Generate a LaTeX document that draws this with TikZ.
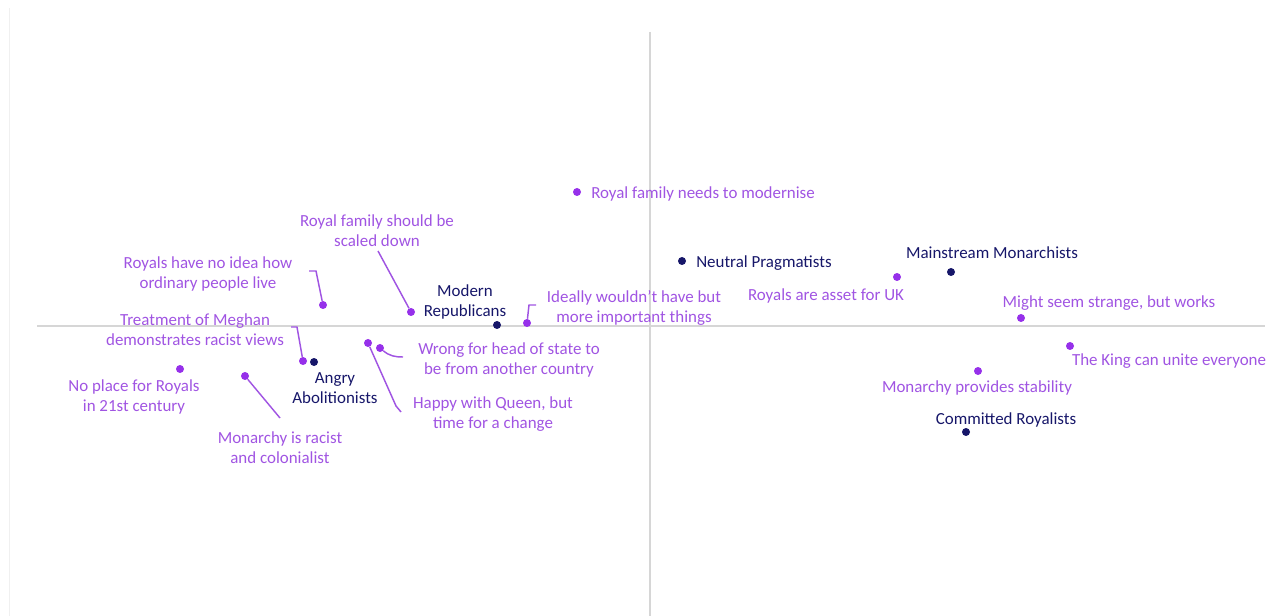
\documentclass[tikz,border=0pt]{standalone}
\usepackage{fontspec}
\setmainfont{Carlito}
\usetikzlibrary{positioning}
\definecolor{achse}{RGB}{214,214,214}
\definecolor{rand}{RGB}{240,240,240}
\definecolor{lila}{RGB}{160,84,226}
\definecolor{lilapunkt}{RGB}{150,48,234}
\definecolor{dunkelblau}{RGB}{22,22,105}

\tikzset{
  aussage/.style={text=lila, align=center, inner sep=0pt, yshift=-1.2pt, font=\fontsize{12.7}{15}\selectfont},
  gruppe/.style={text=dunkelblau, align=center, inner sep=0pt, yshift=-1.2pt, font=\fontsize{12.7}{15}\selectfont},
  lpunkt/.style={circle, fill=lilapunkt, inner sep=0pt, minimum size=6pt},
  gpunkt/.style={circle, fill=dunkelblau, inner sep=0pt, minimum size=6pt},
  zeiger/.style={lila, line width=1.1pt},
}

\begin{document}
\begin{tikzpicture}[x=0.75pt, y=-0.75pt]
\useasboundingbox (0,0) rectangle (1284,616);

% Rand links
\coordinate (ro) at (9,8); \coordinate (ru) at (9,616);
\draw[rand, line width=0.75pt] (ro) -- (ru);

% Achsen
\coordinate (xl) at (37,326); \coordinate (xr) at (1265,326);
\coordinate (yo) at (650,32); \coordinate (yu) at (650,616);
\draw[achse, line width=1.1pt] (xl) -- (xr);
\draw[achse, line width=1.1pt] (yo) -- (yu);

% Punkte der Aussagen
\foreach \n/\x/\y in {mod/577/192, skl/411/312, ahn/323/305, meg/303/361, pla/180/369,
    ras/245/376, ide/527/323, kop/380/348, que/368/343, ass/897/277, sel/1021/318,
    kin/1070/346, sta/978/371}
  \node[lpunkt] (\n) at (\x,\y) {};

% Punkte der Gruppen
\foreach \n/\x/\y in {neu/682/261, mai/951/272, rep/497/325, abo/314/362, kom/966/432}
  \node[gpunkt] (\n) at (\x,\y) {};

% Texte der Aussagen
\node[aussage, anchor=west] (modt) at (591,192) {Royal family needs to modernise};
\node[aussage] (sklt) at (377,229) {Royal family should be\\scaled down};
\node[aussage] (ahnt) at (208,272) {Royals have no idea how\\ordinary people live};
\node[aussage] (megt) at (195,328) {Treatment of Meghan\\demonstrates racist views};
\node[aussage] (plat) at (134,395) {No place for Royals\\in 21st century};
\node[aussage] (rast) at (280,446) {Monarchy is racist\\and colonialist};
\node[aussage] (idet) at (634,306) {Ideally wouldn't have but\\more important things};
\node[aussage] (kopt) at (509,358) {Wrong for head of state to\\be from another country};
\node[aussage] (quet) at (493,412) {Happy with Queen, but\\time for a change};
\node[aussage] (asst) at (826,294) {Royals are asset for UK};
\node[aussage] (selt) at (1109,301) {Might seem strange, but works};
\node[aussage] (kint) at (1169,359) {The King can unite everyone};
\node[aussage] (stat) at (977,386) {Monarchy provides stability};

% Texte der Gruppen
\node[gruppe, anchor=west] (neut) at (696,261) {Neutral Pragmatists};
\node[gruppe] (mait) at (992,251) {Mainstream Monarchists};
\node[gruppe] (rept) at (465,300) {Modern\\Republicans};
\node[gruppe] (abot) at (335,387) {Angry\\Abolitionists};
\node[gruppe] (komt) at (1006,418) {Committed Royalists};

% Zeiger
\coordinate (k2) at (378,251);
\draw[zeiger] (skl) -- (k2);
\coordinate (k3a) at (309,271); \coordinate (k3b) at (316,271);
\draw[zeiger] (ahn) -- (k3b) -- (k3a);
\coordinate (k4a) at (291,327); \coordinate (k4b) at (297,327);
\draw[zeiger] (meg) -- (k4b) -- (k4a);
\coordinate (k6) at (280,418);
\draw[zeiger] (ras) -- (k6);
\coordinate (k7a) at (529,305); \coordinate (k7b) at (536,305);
\draw[zeiger] (ide) -- (k7a) -- (k7b);
\coordinate (k8) at (403,357);
\draw[zeiger] (kop) to[out=-40,in=180] (k8);
\coordinate (k9a) at (396,406); \coordinate (k9b) at (401,412);
\draw[zeiger] (que) -- (k9a) -- (k9b);
\end{tikzpicture}
\end{document}
